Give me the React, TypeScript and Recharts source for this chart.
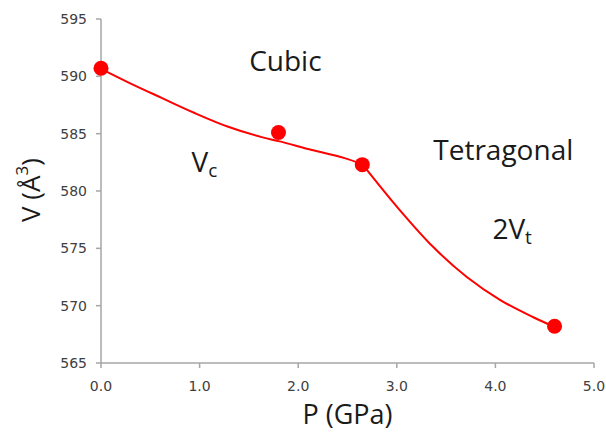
import { ComposedChart, Line, Scatter, XAxis, YAxis, ReferenceDot } from 'recharts'

// measured points
const pressure = [0, 1.8, 2.65, 4.6]
const volume = [590.7, 585.1, 582.3, 568.2]

// fitted curve, cubic branch
const cubicP = [0, 0.27, 0.62, 0.95, 1.29, 1.63, 1.8, 2.14, 2.47, 2.65]
const cubicV = [590.65, 589.5, 588.1, 586.8, 585.6, 584.7, 584.35, 583.57, 582.87, 582.35]

// fitted curve, tetragonal branch
const tetraP = [2.65, 3.03, 3.37, 3.71, 4.05, 4.38, 4.6]
const tetraV = [582.35, 578.34, 575.11, 572.5, 570.49, 569.01, 568.14]

const xTicks = [0, 1, 2, 3, 4, 5]
const yTicks = [565, 570, 575, 580, 585, 590, 595]

const points = pressure.map((p, i) => ({ p, v: volume[i] }))
const cubicCurve = cubicP.map((p, i) => ({ p, v: cubicV[i] }))
const tetraCurve = tetraP.map((p, i) => ({ p, v: tetraV[i] }))

const RED = '#ff0000'
const AXIS = '#a6a6a6'
const TICK_FONT = 'DejaVu Sans, Verdana, sans-serif'
const LABEL_FONT = 'Open Sans, Noto Sans, sans-serif'

function Note({ viewBox, main, sub }: any) {
  const cx = viewBox?.cx ?? viewBox?.x ?? 0
  const cy = viewBox?.cy ?? viewBox?.y ?? 0
  return (
    <text x={cx} y={cy} textAnchor="middle" dominantBaseline="central"
      fontFamily={LABEL_FONT} fontSize={28} fill="#1a1a1a">
      {main}
      {sub && <tspan fontSize={19} dy={9}>{sub}</tspan>}
    </text>
  )
}

function YLabel() {
  return (
    <text x={30} y={190} transform="rotate(-90 30 190)" textAnchor="middle" dominantBaseline="central"
      fontFamily={LABEL_FONT} fontSize={26} fill="#1a1a1a">
      V (Å<tspan fontSize={17} dy={-9}>3</tspan><tspan dy={9}>)</tspan>
    </text>
  )
}

export default function App() {
  return (
    <div style={{ position: 'absolute', left: 0, top: 0, background: '#fff' }}>
      <ComposedChart width={606} height={434} margin={{ top: 19, right: 12, bottom: 0, left: 0 }}>
        <XAxis xAxisId="b" dataKey="p" type="number" domain={[0, 5]} ticks={xTicks}
          tickFormatter={(t: number) => t.toFixed(1)} height={71}
          stroke={AXIS} strokeWidth={1.5} tickSize={5} tickMargin={13}
          tick={{ fill: '#404040', fontSize: 14, fontFamily: TICK_FONT }}
          label={{ value: 'P (GPa)', position: 'insideBottom', offset: 10, fontSize: 27, fontFamily: LABEL_FONT, fill: '#1a1a1a' }} />
        <XAxis xAxisId="t" orientation="top" type="number" domain={[0, 5]} tick={false} tickLine={false}
          height={0} stroke={AXIS} strokeWidth={1.5} />
        <YAxis yAxisId="l" dataKey="v" type="number" domain={[565, 595]} ticks={yTicks} width={101}
          stroke={AXIS} strokeWidth={1.5} tickSize={5} tickMargin={9}
          tick={{ fill: '#404040', fontSize: 14, fontFamily: TICK_FONT }}
          label={<YLabel />} />
        <YAxis yAxisId="r" orientation="right" type="number" domain={[565, 595]} tick={false} tickLine={false}
          width={0} stroke={AXIS} strokeWidth={1.5} />
        <Line xAxisId="b" yAxisId="l" data={cubicCurve} dataKey="v" type="monotone" stroke={RED}
          strokeWidth={2} dot={false} isAnimationActive={false} />
        <Line xAxisId="b" yAxisId="l" data={tetraCurve} dataKey="v" type="monotone" stroke={RED}
          strokeWidth={2} dot={false} isAnimationActive={false} />
        <Scatter xAxisId="b" yAxisId="l" data={points} dataKey="v" fill={RED}
          shape={(props: any) => <circle cx={props.cx} cy={props.cy} r={7.5} fill={RED} />}
          isAnimationActive={false} />
        <ReferenceDot xAxisId="b" yAxisId="l" x={1.87} y={591.4} r={0} stroke="none"
          label={<Note main="Cubic" />} />
        <ReferenceDot xAxisId="b" yAxisId="l" x={1.05} y={582.6} r={0} stroke="none"
          label={<Note main="V" sub="c" />} />
        <ReferenceDot xAxisId="b" yAxisId="l" x={4.08} y={583.7} r={0} stroke="none"
          label={<Note main="Tetragonal" />} />
        <ReferenceDot xAxisId="b" yAxisId="l" x={4.17} y={576.8} r={0} stroke="none"
          label={<Note main="2V" sub="t" />} />
      </ComposedChart>
    </div>
  )
}
